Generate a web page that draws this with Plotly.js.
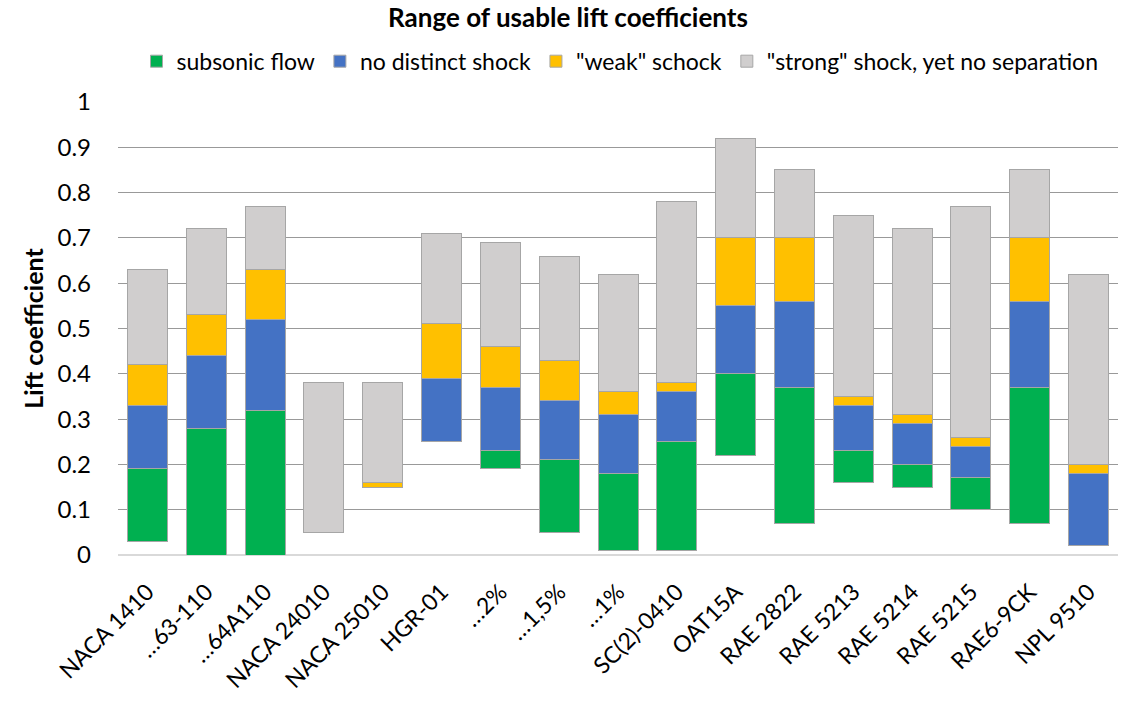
<!DOCTYPE html>
<html>
<head>
<meta charset="utf-8">
<script src="https://cdn.plot.ly/plotly-3.0.1.min.js"></script>
<style>
  html, body { margin: 0; padding: 0; background: #fff; }
  #chart { width: 1136px; height: 708px; }
</style>
</head>
<body>
<div id="chart"></div>
<script>
// airfoils
var airfoils = ['NACA 1410', '…63-110', '…64A110', 'NACA 24010', 'NACA 25010', 'HGR-01',
    '…2%', '…1,5%', '…1%', 'SC(2)-0410', 'OAT15A', 'RAE 2822', 'RAE 5213', 'RAE 5214',
    'RAE 5215', 'RAE6-9CK', 'NPL 9510'];

// lowest usable lift coefficient (invisible offset)
var baseCl    = [0.03, 0, 0, 0.05, 0.15, 0.25, 0.19, 0.05, 0.01, 0.01, 0.22, 0.07, 0.16, 0.15, 0.10, 0.07, 0.02];
// height of each band
var subsonic  = [0.16, 0.28, 0.32, 0, 0, 0, 0.04, 0.16, 0.17, 0.24, 0.18, 0.30, 0.07, 0.05, 0.07, 0.30, 0];
var noShock   = [0.14, 0.16, 0.20, 0, 0, 0.14, 0.14, 0.13, 0.13, 0.11, 0.15, 0.19, 0.10, 0.09, 0.07, 0.19, 0.16];
var weakShock = [0.09, 0.09, 0.11, 0, 0.01, 0.12, 0.09, 0.09, 0.05, 0.02, 0.15, 0.14, 0.02, 0.02, 0.02, 0.14, 0.02];
var strongShock = [0.21, 0.19, 0.14, 0.33, 0.22, 0.20, 0.23, 0.23, 0.26, 0.40, 0.22, 0.15, 0.40, 0.41, 0.51, 0.15, 0.42];

var outline = {color: '#a6a6a6', width: 1};

var base = {
    x: airfoils, y: baseCl, type: 'bar', showlegend: false, hoverinfo: 'skip',
    marker: {color: 'rgba(0,0,0,0)', line: {width: 0}}
};

function band(vals, name, col) {
    return {
        x: airfoils, y: vals, type: 'bar', name: name,
        marker: {color: col, line: outline}
    };
}

var data = [
    base,
    band(subsonic, 'subsonic flow', '#00b050'),
    band(noShock, 'no distinct shock', '#4472c4'),
    band(weakShock, '"weak" schock', '#ffc000'),
    band(strongShock, '"strong" shock, yet no separation', '#d0cece')
];

var layout = {
    width: 1136, height: 708,
    margin: {l: 118, r: 18, t: 102, b: 153},
    paper_bgcolor: '#fff', plot_bgcolor: '#fff',
    font: {family: 'Lato, "Open Sans", sans-serif', color: '#000', size: 23},
    barmode: 'stack',
    bargap: 0.32,
    title: {
        text: '<b>Range of usable lift coefficients</b>',
        font: {size: 26, color: '#000'},
        x: 0.5, xanchor: 'center', y: 0.988, yanchor: 'top'
    },
    legend: {
        orientation: 'h', x: 0.502, xanchor: 'center', y: 1.09, yanchor: 'middle',
        font: {size: 23}, traceorder: 'normal', itemwidth: 30
    },
    xaxis: {
        tickangle: -45, showgrid: false, showline: false, ticks: '',
        tickfont: {size: 23}, ticklabelstandoff: 18
    },
    yaxis: {
        range: [0, 1], dtick: 0.1, showgrid: true, gridcolor: '#999999', gridwidth: 1,
        zeroline: true, zerolinecolor: '#d9d9d9', zerolinewidth: 1.5,
        tickfont: {size: 24}, ticklabelstandoff: 26,
        title: {text: '<b>Lift coefficient</b>', font: {size: 25}, standoff: 6}
    }
};

Plotly.newPlot('chart', data, layout, {displayModeBar: false, staticPlot: true});
</script>
</body>
</html>
